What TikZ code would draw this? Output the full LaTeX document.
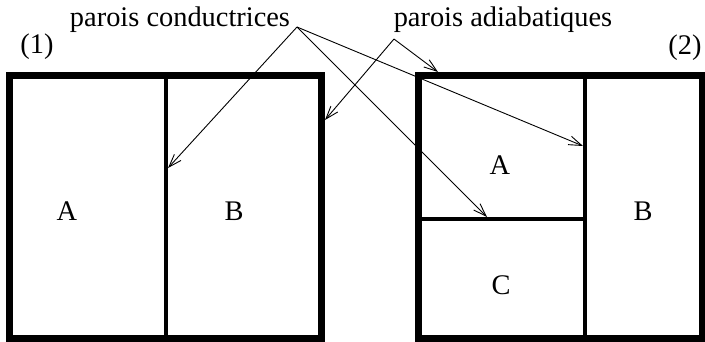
\documentclass[tikz,border=0pt]{standalone}
\usepackage{fontspec}
\setmainfont{Liberation Serif}
\usetikzlibrary{arrows.meta}
\tikzset{
  lbl/.style={font=\fontsize{28.4}{34}\selectfont, inner sep=0pt, anchor=base},
  outer/.style={line width=7pt},
  wall/.style={line width=4.5pt},
  ptr/.style={line width=0.9pt, -{Straight Barb[length=13pt,width=9pt,line width=0.9pt]}},
}
\begin{document}
\begin{tikzpicture}[x=1pt,y=-1pt]
\useasboundingbox (0,0) rectangle (705,341);
% boxes
\draw[outer] (9.5,75) rectangle (321.5,338);
\draw[wall] (166,75) -- (166,338);
\draw[outer] (418.5,75) rectangle (702,338);
\draw[wall] (585,75) -- (585,338);
\draw[wall] (418.5,219) -- (585,219);
% labels
\node[lbl] (t1) at (180,26) {parois conductrices};
\node[lbl] (t2) at (503,26) {parois adiabatiques};
\node[lbl] (n1) at (37,53) {(1)};
\node[lbl] (n2) at (685,54) {(2)};
\node[lbl] (a1) at (67,220) {A};
\node[lbl] (b1) at (234,220) {B};
\node[lbl] (a2) at (500,174.5) {A};
\node[lbl] (b2) at (643,220) {B};
\node[lbl] (c2) at (501,294) {C};
% pointer coordinates
\coordinate (pc) at (297,27);
\coordinate (pa) at (394,39);
\coordinate (e1) at (168,168);
\coordinate (e2) at (583,146);
\coordinate (e3) at (487,217);
\coordinate (e4) at (438,72);
\coordinate (e5) at (325,120);
\draw[ptr] (pc) -- (e1);
\draw[ptr] (pc) -- (e2);
\draw[ptr] (pc) -- (e3);
\draw[ptr] (pa) -- (e4);
\draw[ptr] (pa) -- (e5);
\end{tikzpicture}
\end{document}
